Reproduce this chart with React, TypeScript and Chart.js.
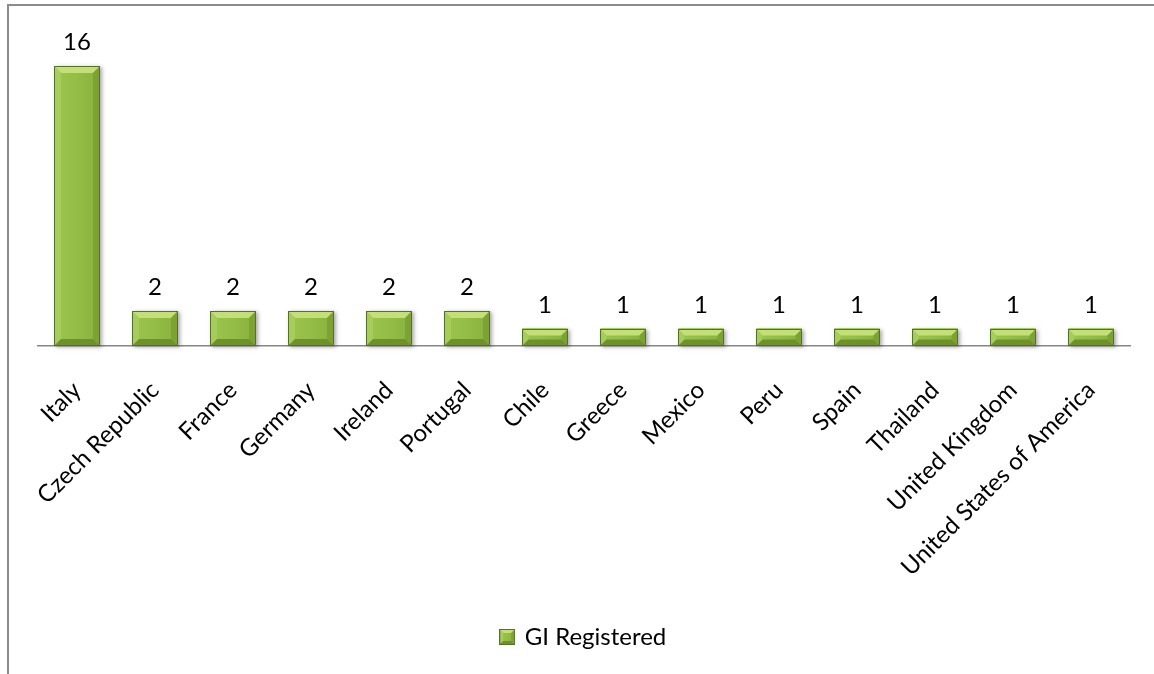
import { useEffect, useRef } from "react";
import { Chart, registerables } from "chart.js";

Chart.register(...registerables);

const categories = [
  "Italy",
  "Czech Republic",
  "France",
  "Germany",
  "Ireland",
  "Portugal",
  "Chile",
  "Greece",
  "Mexico",
  "Peru",
  "Spain",
  "Thailand",
  "United Kingdom",
  "United States of America",
];
const giRegistered = [16, 2, 2, 2, 2, 2, 1, 1, 1, 1, 1, 1, 1, 1];
const seriesName = "GI Registered";
const yMin = 0;
const yMax = 18;

const FONT = "Lato, 'Open Sans', sans-serif";
const FACE = "#93BD46";
const TOP = "#C2DF78";
const LEFT = "#A6CC5B";
const RIGHT = "#7CA234";
const BOTTOM = "#6E912C";
const EDGE = "#55702A";

function drawBevel(ctx: CanvasRenderingContext2D, l: number, t: number, r: number, b: number) {
  const h = b - t;
  const w = r - l;
  const s = Math.max(1, Math.min(7, h / 2.6, w / 4));
  const g = ctx.createLinearGradient(l, 0, r, 0);
  g.addColorStop(0, "#9CC54E");
  g.addColorStop(0.5, FACE);
  g.addColorStop(1, "#88B03E");
  ctx.fillStyle = g;
  ctx.fillRect(l, t, w, h);
  const poly = (pts: number[][], c: string) => {
    ctx.beginPath();
    ctx.moveTo(pts[0][0], pts[0][1]);
    for (let i = 1; i < pts.length; i++) ctx.lineTo(pts[i][0], pts[i][1]);
    ctx.closePath();
    ctx.fillStyle = c;
    ctx.fill();
  };
  poly([[l, t], [r, t], [r - s, t + s], [l + s, t + s]], TOP);
  poly([[l, t], [l + s, t + s], [l + s, b - s], [l, b]], LEFT);
  poly([[r, t], [r, b], [r - s, b - s], [r - s, t + s]], RIGHT);
  poly([[l, b], [r, b], [r - s, b - s], [l + s, b - s]], BOTTOM);
  ctx.strokeStyle = EDGE;
  ctx.lineWidth = 1;
  ctx.strokeRect(l + 0.5, t + 0.5, w - 1, h - 1);
}

const bevelPlugin = {
  id: "bevelBars",
  beforeDatasetsDraw(chart: any) {
    const ctx = chart.ctx as CanvasRenderingContext2D;
    const meta = chart.getDatasetMeta(0);
    ctx.save();
    meta.data.forEach((el: any) => {
      const { x, y, base, width } = el.getProps(["x", "y", "base", "width"], true);
      ctx.shadowColor = "rgba(0,0,0,0.35)";
      ctx.shadowBlur = 4;
      ctx.shadowOffsetX = 2;
      ctx.shadowOffsetY = 1;
      ctx.fillStyle = FACE;
      ctx.fillRect(x - width / 2, y, width, base - y);
    });
    ctx.restore();
  },
  afterDatasetsDraw(chart: any) {
    const ctx = chart.ctx as CanvasRenderingContext2D;
    const meta = chart.getDatasetMeta(0);
    const values = chart.data.datasets[0].data as number[];
    ctx.save();
    meta.data.forEach((el: any, i: number) => {
      const { x, y, base, width } = el.getProps(["x", "y", "base", "width"], true);
      drawBevel(ctx, Math.round(x - width / 2), Math.round(y), Math.round(x + width / 2), Math.round(base));
      ctx.fillStyle = "#000";
      ctx.font = `24px ${FONT}`;
      ctx.textAlign = "center";
      ctx.textBaseline = "alphabetic";
      ctx.fillText(String(values[i]), x, y - 16);
    });
    ctx.restore();
  },
};

function makeLegendIcon(): HTMLCanvasElement {
  const c = document.createElement("canvas");
  c.width = 16;
  c.height = 16;
  const ctx = c.getContext("2d")!;
  drawBevel(ctx, 0, 0, 16, 16);
  return c;
}

export default function App() {
  const ref = useRef<HTMLCanvasElement | null>(null);
  useEffect(() => {
    if (!ref.current) return;
    const icon = makeLegendIcon();
    const chart = new Chart(ref.current, {
      type: "bar",
      data: {
        labels: categories,
        datasets: [
          {
            label: seriesName,
            data: giRegistered,
            backgroundColor: FACE,
            borderWidth: 0,
            barPercentage: 1,
            categoryPercentage: 0.58,
            pointStyle: icon as any,
          },
        ],
      },
      plugins: [bevelPlugin],
      options: {
        animation: false,
        responsive: true,
        maintainAspectRatio: false,
        layout: { padding: { left: 29, right: 24, top: 25, bottom: 15 } },
        plugins: {
          tooltip: { enabled: false },
          legend: {
            position: "bottom",
            labels: {
              usePointStyle: true,
              boxWidth: 11,
              color: "#000",
              font: { family: FONT, size: 24 },
              padding: 10,
            },
          },
        },
        scales: {
          x: {
            grid: { display: false, drawTicks: false },
            border: { display: true, color: "#868686", width: 1.5 },
            ticks: {
              autoSkip: false,
              minRotation: 45,
              maxRotation: 45,
              padding: 30,
              color: "#000",
              font: { family: FONT, size: 24 },
            },
            afterFit: (s: any) => {
              s.height = 269;
            },
          },
          y: { display: false, min: yMin, max: yMax },
        },
      },
    });
    return () => chart.destroy();
  }, []);
  return (
    <div
      style={{
        position: "absolute",
        left: 7,
        top: 4,
        width: 1147,
        height: 670,
        boxSizing: "border-box",
        borderTop: "2px solid #8c8c8c",
        borderLeft: "2px solid #8c8c8c",
        background: "#fff",
      }}
    >
      <div style={{ position: "relative", width: 1145, height: 668 }}>
        <canvas ref={ref} />
      </div>
    </div>
  );
}
